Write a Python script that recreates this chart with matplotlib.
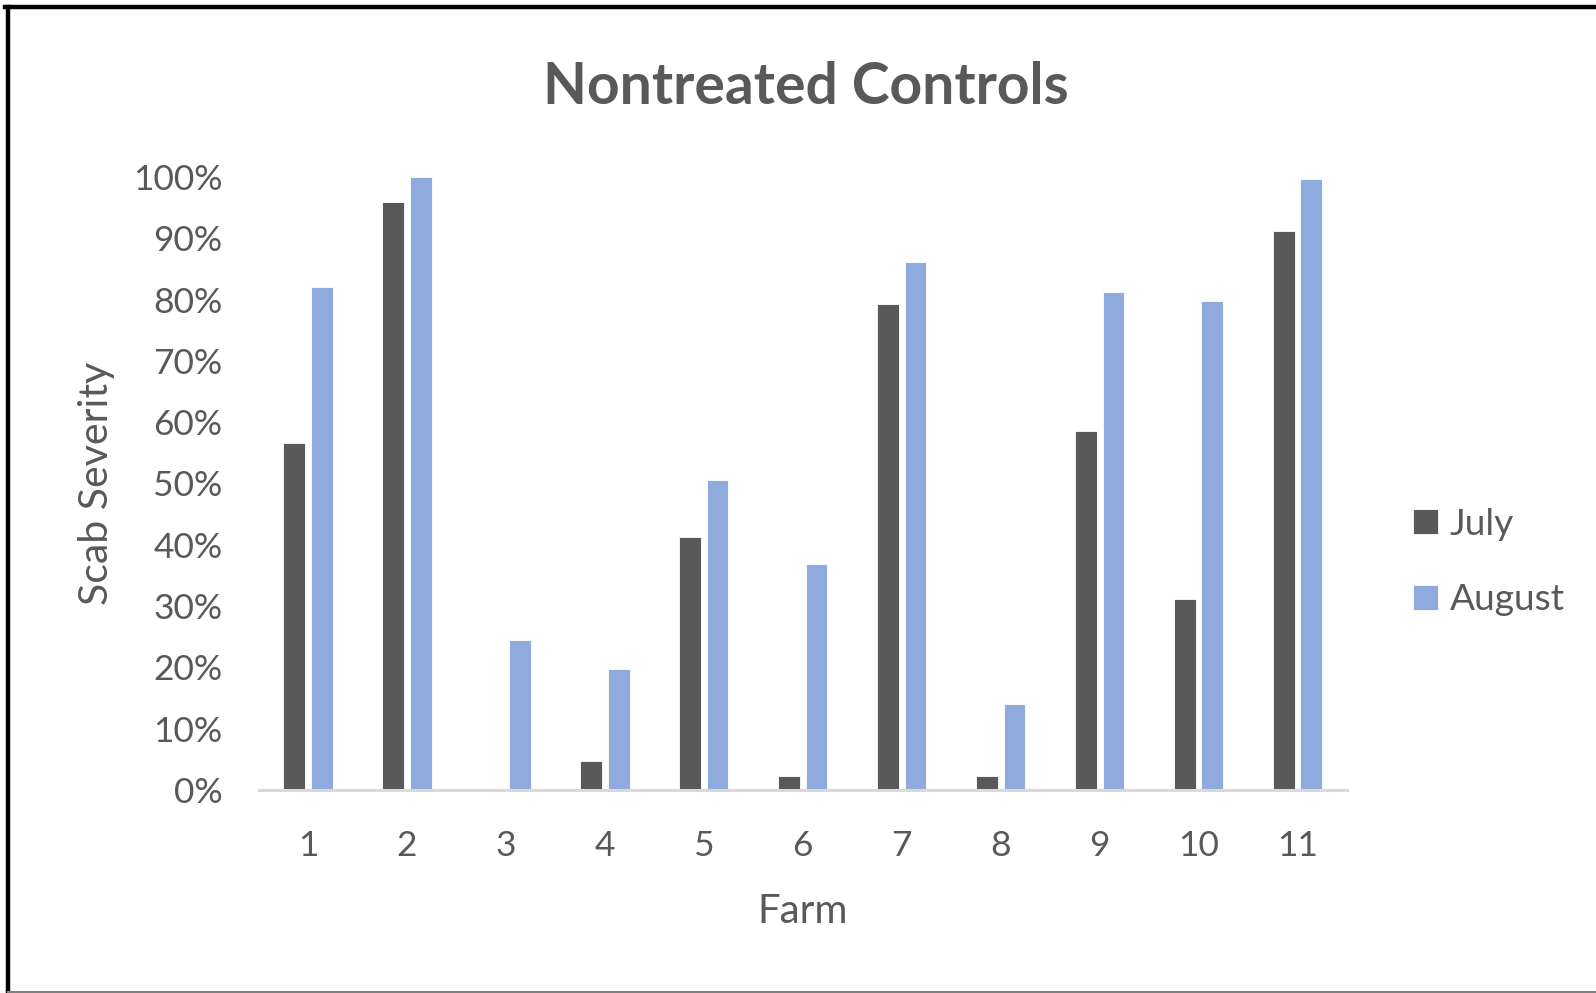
import numpy as np
import matplotlib
matplotlib.use('Agg')
import matplotlib.pyplot as plt
from matplotlib.lines import Line2D
from matplotlib.ticker import PercentFormatter

# Scab severity per farm (%)
farms = ['1', '2', '3', '4', '5', '6', '7', '8', '9', '10', '11']
july = [56.6, 95.9, 0.0, 4.8, 41.2, 2.3, 79.2, 2.3, 58.6, 31.2, 91.2]
august = [82.1, 100.0, 24.4, 19.8, 50.5, 36.9, 86.2, 14.1, 81.2, 79.7, 99.6]

text_color = '#595959'
plt.rcParams['font.family'] = ['Lato', 'DejaVu Sans']

# Create the figure and axes
fig = plt.figure(figsize=(15.96, 9.93), dpi=100)
ax = fig.add_axes([0.162, 0.2044, 0.682, 0.6174])

x = np.arange(len(farms))
width = 0.22
ax.bar(x - 0.139, july, width, color='#595959', edgecolor='white', linewidth=0.6, label='July')
ax.bar(x + 0.139, august, width, color='#8FAADC', edgecolor='white', linewidth=0.6, label='August')

# Axes limits and ticks
ax.set_xlim(-0.5, len(farms) - 0.5)
ax.set_ylim(0, 100)
ax.set_yticks(np.arange(0, 101, 10))
ax.yaxis.set_major_formatter(PercentFormatter(decimals=0))
ax.set_xticks(x)
ax.set_xticklabels(farms)
ax.tick_params(axis='both', length=0, labelsize=25.5, labelcolor=text_color)
ax.tick_params(axis='x', pad=29)
ax.tick_params(axis='y', pad=26)

for side in ['top', 'right', 'left']:
    ax.spines[side].set_visible(False)
ax.spines['bottom'].set_color('#D9D9D9')
ax.spines['bottom'].set_linewidth(2.2)

# Labels and title
ax.set_xlabel('Farm', fontsize=29, color=text_color, labelpad=22)
ax.set_ylabel('Scab Severity', fontsize=29.5, color=text_color, labelpad=13)
fig.text(0.505, 0.912, 'Nontreated Controls', ha='center', va='center',
         fontsize=41, fontweight='bold', color=text_color)

# Legend
ax.legend(loc='center left', bbox_to_anchor=(1.03, 0.372), frameon=False,
          fontsize=26.7, labelcolor=text_color, handlelength=0.68, handleheight=0.68,
          handletextpad=0.3, labelspacing=1.15)

# Frame around the picture
fig.add_artist(Line2D([0.003, 1.0], [0.993, 0.993], color='black', linewidth=3.2))
fig.add_artist(Line2D([0.005, 0.005], [0.0, 0.993], color='black', linewidth=3.2))
fig.add_artist(Line2D([0.005, 1.0], [0.0015, 0.0015], color='#808080', linewidth=1.5))

plt.savefig('out.png', dpi=100)
